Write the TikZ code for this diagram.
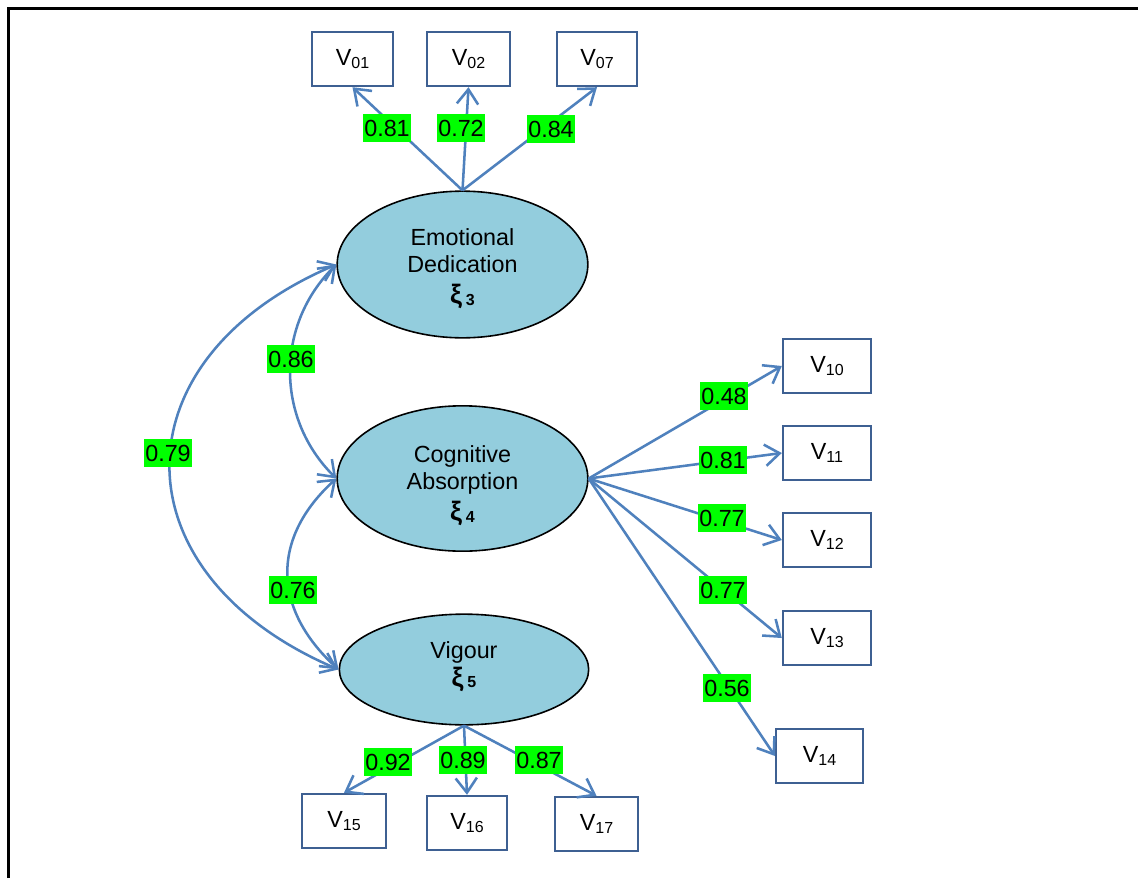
\documentclass[tikz,border=0pt]{standalone}
\usepackage{fontspec}
\setmainfont{Liberation Sans}
\usetikzlibrary{arrows.meta,shapes.geometric}
\definecolor{arrowblue}{RGB}{79,129,189}
\definecolor{boxblue}{RGB}{62,96,146}
\definecolor{latentfill}{RGB}{147,205,221}
\definecolor{coefgreen}{RGB}{0,255,0}
% factor symbol with its bold index
\newcommand\factorsym[1]{\textbf{{\fontsize{20pt}{20pt}\selectfont ξ}\,\raisebox{-1pt}{\fontsize{12pt}{12pt}\selectfont #1}}}
% observed variable name with index
\newcommand\obsvar[1]{V\raisebox{-2pt}{\fontsize{12pt}{12pt}\selectfont #1}}
\begin{document}
\begin{tikzpicture}[x=0.75pt,y=-0.75pt,
  latent/.style={ellipse, draw=black, line width=1.2pt, fill=latentfill, inner sep=0pt},
  latenttext/.style={inner sep=0pt, align=center, font=\fontsize{17.5pt}{20.5pt}\selectfont},
  manifest/.style={rectangle, draw=boxblue, line width=1.8pt, fill=white,
    inner sep=0pt, minimum height=40.5pt, font=\fontsize{17.5pt}{20pt}\selectfont},
  barb/.tip={Straight Barb[length=11pt,width=16pt]},
  load/.style={draw=arrowblue, line width=1.9pt, -barb},
  cov/.style={draw=arrowblue, line width=1.9pt, barb-barb},
  coef/.style={fill=coefgreen, inner xsep=1pt, inner ysep=0pt, text height=16.5pt,
    text depth=4.3pt, font=\fontsize{17.5pt}{20pt}\selectfont}]
\useasboundingbox (0,0) rectangle (1138,878);
\fill[white] (0,0) rectangle (1138,878);
% outer frame
\draw[line width=1.8pt] (8.5,878) -- (8.5,8.5) -- (1138,8.5);

% latent factors
\node[latent, minimum width=188pt, minimum height=110pt] (emo) at (462.5,264.5) {};
\node[latent, minimum width=188pt, minimum height=109pt] (cog) at (462.5,478.5) {};
\node[latent, minimum width=187pt, minimum height=83pt] (vig) at (464,669.5) {};
\node[latenttext] (emotxt) at (462.5,268.5) {Emotional\\Dedication\\[3pt]\factorsym{3}};
\node[latenttext] (cogtxt) at (462.5,485.5) {Cognitive\\Absorption\\[3pt]\factorsym{4}};
\node[latenttext] (vigtxt) at (464,666.5) {Vigour\\\factorsym{5}};

% observed variables
\node[manifest, minimum width=61pt] (v01) at (352.5,59) {\obsvar{01}};
\node[manifest, minimum width=62pt] (v02) at (468.5,59) {\obsvar{02}};
\node[manifest, minimum width=60pt] (v07) at (597,59) {\obsvar{07}};
\node[manifest, minimum width=66pt] (v10) at (827,366) {\obsvar{10}};
\node[manifest, minimum width=66pt] (v11) at (827,453) {\obsvar{11}};
\node[manifest, minimum width=66pt] (v12) at (827,540) {\obsvar{12}};
\node[manifest, minimum width=66pt] (v13) at (827,638) {\obsvar{13}};
\node[manifest, minimum width=65pt] (v14) at (819.5,756) {\obsvar{14}};
\node[manifest, minimum width=63pt] (v15) at (344,821) {\obsvar{15}};
\node[manifest, minimum width=60pt] (v16) at (467,823) {\obsvar{16}};
\node[manifest, minimum width=62pt] (v17) at (596.5,824) {\obsvar{17}};

% loadings
\draw[load] (emo.north) -- (v01.south);
\draw[load] (emo.north) -- (v02.south);
\draw[load] (emo.north) -- (v07.south);
\draw[load] (cog.east) -- (v10.west);
\draw[load] (cog.east) -- (v11.west);
\draw[load] (cog.east) -- (v12.west);
\draw[load] (cog.east) -- (v13.west);
\draw[load] (cog.east) -- (v14.west);
\draw[load] (vig.south) -- (v15.north);
\draw[load] (vig.south) -- (v16.north);
\draw[load] (vig.south) -- (v17.north);

% factor correlations
\draw[cov] (emo.west) .. controls +(-61,60) and +(-61,-60) .. (cog.west);
\draw[cov] (cog.west) .. controls +(-66,60) and +(-66,-60) .. (vig.west);
\draw[cov] (emo.west) .. controls +(-223,95) and +(-223,-95) .. (vig.west);

% coefficients
\node[coef] (c01) at (387,128) {0.81};
\node[coef] (c02) at (461,128) {0.72};
\node[coef] (c07) at (551,129) {0.84};
\node[coef] (c10) at (724,396) {0.48};
\node[coef] (c11) at (723,460) {0.81};
\node[coef] (c12) at (722,518) {0.77};
\node[coef] (c13) at (723,590) {0.77};
\node[coef] (c14) at (727,688) {0.56};
\node[coef] (c15) at (388,762) {0.92};
\node[coef] (c16) at (463,760) {0.89};
\node[coef] (c17) at (539,760) {0.87};
\node[coef] (r34) at (291,359) {0.86};
\node[coef] (r45) at (293,590) {0.76};
\node[coef] (r35) at (168,453) {0.79};
\end{tikzpicture}
\end{document}
